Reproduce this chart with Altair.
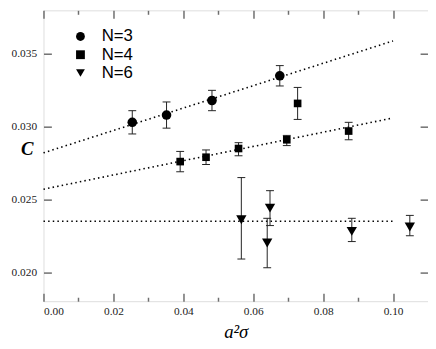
import altair as alt
import pandas as pd

# ---- data ----
n3_x  = [0.0254, 0.0352, 0.0482, 0.0676]
n3_y  = [0.0303, 0.0308, 0.0318, 0.0335]
n3_lo = [0.0295, 0.0299, 0.0311, 0.0328]
n3_hi = [0.0311, 0.0317, 0.0325, 0.0342]

n4_x  = [0.0391, 0.0465, 0.0558, 0.0696, 0.0727, 0.0873]
n4_y  = [0.0276, 0.0279, 0.0285, 0.0291, 0.0316, 0.0297]
n4_lo = [0.0269, 0.0274, 0.0280, 0.0287, 0.0305, 0.0291]
n4_hi = [0.0283, 0.0284, 0.0289, 0.0294, 0.0327, 0.0303]

n6_x  = [0.0566, 0.0648, 0.0640, 0.0882, 0.1048]
n6_y  = [0.0236, 0.0244, 0.0220, 0.0228, 0.0231]
n6_lo = [0.0209, 0.0232, 0.0203, 0.0221, 0.0225]
n6_hi = [0.0265, 0.0256, 0.0237, 0.0237, 0.0239]

fit_x  = [0.0, 0.10]
fit3_y = [0.0282, 0.0359]
fit4_y = [0.0257, 0.0306]
fit6_y = [0.0235, 0.0235]

series = ["N=3", "N=4", "N=6"]
shapes = ["circle", "square", "triangle-down"]

x_major = [0.0, 0.02, 0.04, 0.06, 0.08, 0.10]
x_minor = [0.01, 0.03, 0.05, 0.07, 0.09]
y_major = [0.020, 0.025, 0.030, 0.035]

rows = []
for name, xs_, ys_, lo_, hi_ in [("N=3", n3_x, n3_y, n3_lo, n3_hi),
                                 ("N=4", n4_x, n4_y, n4_lo, n4_hi),
                                 ("N=6", n6_x, n6_y, n6_lo, n6_hi)]:
    for a, b, c, d in zip(xs_, ys_, lo_, hi_):
        rows.append({"x": a, "y": b, "lo": c, "hi": d, "N": name})
df = pd.DataFrame(rows)

frows = []
for name, fy in [("N=3", fit3_y), ("N=4", fit4_y), ("N=6", fit6_y)]:
    for a, b in zip(fit_x, fy):
        frows.append({"x": a, "y": b, "N": name})
fdf = pd.DataFrame(frows)

GRAY = "#6e6e6e"
SERIF = "Liberation Serif"

xs = alt.Scale(domain=[0, 0.11], nice=False, zero=False)
ys = alt.Scale(domain=[0.018, 0.038], nice=False, zero=False)

base = alt.Chart(df)

lines = alt.Chart(fdf).mark_line(color="black", strokeDash=[1.5, 3.2], strokeWidth=1.6).encode(
    x=alt.X("x:Q", scale=xs, axis=None),
    y=alt.Y("y:Q", scale=ys, axis=None),
    detail="N:N",
)

rules = base.mark_rule(color="#222", strokeWidth=1).encode(
    x=alt.X("x:Q", scale=xs, axis=None),
    y=alt.Y("lo:Q", scale=ys, axis=None),
    y2="hi:Q",
)

caps = base.transform_fold(["lo", "hi"], as_=["k", "v"]).mark_tick(
    orient="horizontal", size=8, thickness=1, color="#222", opacity=1
).encode(
    x=alt.X("x:Q", scale=xs, axis=None),
    y=alt.Y("v:Q", scale=ys, axis=None),
)

points = base.mark_point(filled=True, opacity=1, color="black").encode(
    x=alt.X("x:Q", scale=xs, axis=alt.Axis(
        orient="bottom", values=x_major, format=".2f", ticks=False, domain=False, grid=False,
        labelFont=SERIF, labelFontSize=11.5, labelColor="#222", labelPadding=4,
        title="a²σ", titleFont=SERIF, titleFontStyle="italic", titleFontSize=19,
        titleFontWeight="normal", titleColor="black", titlePadding=6)),
    y=alt.Y("y:Q", scale=ys, axis=alt.Axis(
        orient="left", values=y_major, format=".3f", ticks=False, domain=False, grid=False,
        labelFont=SERIF, labelFontSize=11.5, labelColor="#222", labelPadding=7,
        title="C", titleFont=SERIF, titleFontStyle="italic", titleFontWeight="bold",
        titleFontSize=19, titleColor="black", titleAngle=0, titleAlign="center",
        titleBaseline="middle", titleX=-17, titleY=140)),
    shape=alt.Shape("N:N", scale=alt.Scale(domain=series, range=shapes), legend=alt.Legend(
        title=None, orient="none", legendX=29, legendY=18, symbolSize=80,
        symbolFillColor="black", symbolStrokeColor="black", symbolStrokeWidth=0,
        symbolOpacity=1, labelFont="Liberation Sans", labelFontSize=17, labelColor="black",
        labelOffset=13, rowPadding=0.5, padding=0)),
    size=alt.value(95, condition=[
        {"test": "datum.N === 'N=4'", "value": 60},
        {"test": "datum.N === 'N=6'", "value": 110},
    ]),
)


def tick_axis(orient, values, size):
    return alt.Axis(orient=orient, values=values, labels=False, domain=False, grid=False,
                    ticks=True, tickSize=size, offset=-size, tickColor=GRAY,
                    tickWidth=1.5, title=None)


ghost = base.mark_point(opacity=0)
t1 = ghost.encode(x=alt.X("x:Q", scale=xs, axis=tick_axis("bottom", x_major, 8)),
                  y=alt.Y("y:Q", scale=ys, axis=tick_axis("left", y_major, 8)))
t2 = ghost.encode(x=alt.X("x:Q", scale=xs, axis=tick_axis("bottom", x_minor, 4)),
                  y=alt.Y("y:Q", scale=ys, axis=tick_axis("right", y_major, 8)))
t3 = ghost.encode(x=alt.X("x:Q", scale=xs, axis=tick_axis("top", x_major, 8)),
                  y=alt.Y("y:Q", scale=ys, axis=None))
t4 = ghost.encode(x=alt.X("x:Q", scale=xs, axis=tick_axis("top", x_minor, 4)),
                  y=alt.Y("y:Q", scale=ys, axis=None))

chart = alt.layer(lines, rules, caps, points, t1, t2, t3, t4).resolve_axis(
    x="independent", y="independent"
).properties(
    width=390, height=295,
    autosize=alt.AutoSizeParams(type="none"),
    padding={"left": 36, "top": 0, "right": 0, "bottom": 38},
).configure_view(
    stroke=GRAY, strokeWidth=1.5
).configure_axis(
    labelFont=SERIF
).configure(background="white")

chart.save("out.html", embed_options={"renderer": "svg", "actions": False})
